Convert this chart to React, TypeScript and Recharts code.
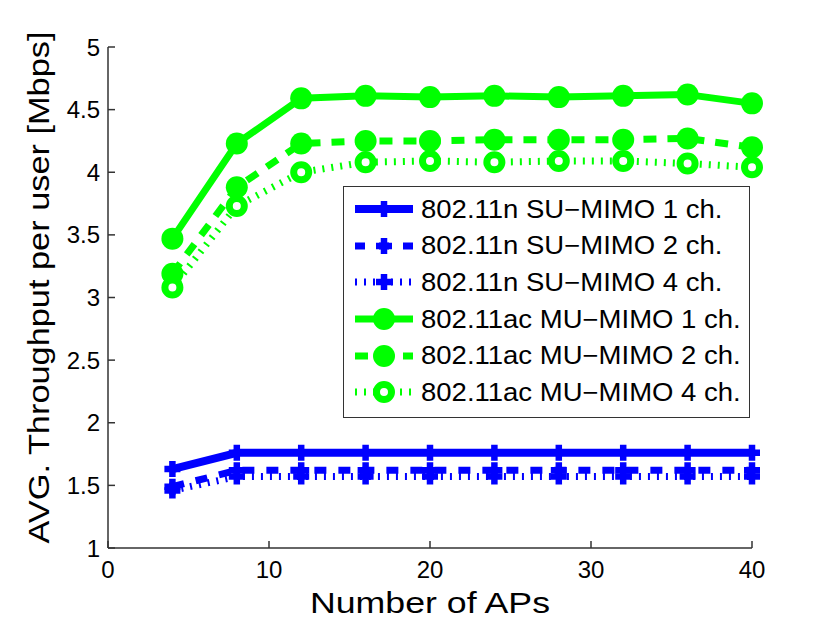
import React from 'react';
import { LineChart, Line, XAxis, YAxis, Legend, Label } from 'recharts';

// number of APs on the x axis
const AP_COUNTS = [4, 8, 12, 16, 20, 24, 28, 32, 36, 40];

// AVG. throughput per user [Mbps]
const SU_MIMO_1CH = [1.63, 1.76, 1.76, 1.76, 1.76, 1.76, 1.76, 1.76, 1.76, 1.76];
const SU_MIMO_2CH = [1.49, 1.62, 1.62, 1.62, 1.62, 1.62, 1.62, 1.62, 1.62, 1.62];
const SU_MIMO_4CH = [1.46, 1.57, 1.57, 1.57, 1.57, 1.57, 1.57, 1.57, 1.57, 1.57];
const MU_MIMO_1CH = [3.47, 4.23, 4.59, 4.61, 4.6, 4.61, 4.6, 4.61, 4.62, 4.55];
const MU_MIMO_2CH = [3.19, 3.88, 4.23, 4.25, 4.25, 4.26, 4.26, 4.26, 4.27, 4.2];
const MU_MIMO_4CH = [3.08, 3.73, 4.0, 4.08, 4.09, 4.08, 4.09, 4.09, 4.07, 4.04];

const X_TICKS = [0, 10, 20, 30, 40];
const Y_TICKS = [1, 1.5, 2, 2.5, 3, 3.5, 4, 4.5, 5];

const BLUE = '#0000ff';
const GREEN = '#00ff00';
const FONT = '"Liberation Sans", Arial, Helvetica, sans-serif';

type MarkerKind = 'plus' | 'disc' | 'ring';

const SERIES = [
  { key: 'su1', label: '802.11n SU\u2212MIMO 1 ch.', values: SU_MIMO_1CH, color: BLUE, width: 8, dash: undefined, marker: 'plus' as MarkerKind },
  { key: 'su2', label: '802.11n SU\u2212MIMO 2 ch.', values: SU_MIMO_2CH, color: BLUE, width: 7, dash: '12 12', marker: 'plus' as MarkerKind },
  { key: 'su4', label: '802.11n SU\u2212MIMO 4 ch.', values: SU_MIMO_4CH, color: BLUE, width: 7, dash: '2 7', marker: 'plus' as MarkerKind },
  { key: 'mu1', label: '802.11ac MU\u2212MIMO 1 ch.', values: MU_MIMO_1CH, color: GREEN, width: 7, dash: undefined, marker: 'disc' as MarkerKind },
  { key: 'mu2', label: '802.11ac MU\u2212MIMO 2 ch.', values: MU_MIMO_2CH, color: GREEN, width: 7, dash: '13 11', marker: 'disc' as MarkerKind },
  { key: 'mu4', label: '802.11ac MU\u2212MIMO 4 ch.', values: MU_MIMO_4CH, color: GREEN, width: 7, dash: '2 7', marker: 'ring' as MarkerKind },
];

const data = AP_COUNTS.map((x, i) => {
  const row: Record<string, number> = { x };
  SERIES.forEach((s) => {
    row[s.key] = s.values[i];
  });
  return row;
});

function Marker({ cx, cy, kind, color }: { cx: number; cy: number; kind: MarkerKind; color: string }) {
  if (kind === 'plus') {
    return (
      <path
        d={`M${cx - 8},${cy}H${cx + 8}M${cx},${cy - 8}V${cy + 8}`}
        stroke={color}
        strokeWidth={6.5}
        fill="none"
      />
    );
  }
  if (kind === 'ring') {
    return <circle cx={cx} cy={cy} r={7.5} fill="#fff" stroke={color} strokeWidth={7} />;
  }
  return <circle cx={cx} cy={cy} r={11} fill={color} />;
}

function LegendBox() {
  return (
    <div
      style={{
        width: 405,
        height: 226,
        border: '1px solid #333',
        background: '#fff',
        paddingTop: 4,
        boxSizing: 'content-box',
        fontFamily: FONT,
      }}
    >
      {SERIES.map((s) => (
        <div key={s.key} style={{ display: 'flex', alignItems: 'center', height: 36.6 }}>
          <svg width={58} height={30} style={{ marginLeft: 11, marginRight: 8, flex: 'none' }}>
            <line
              x1={0}
              y1={15}
              x2={58}
              y2={15}
              stroke={s.color}
              strokeWidth={s.width}
              strokeDasharray={s.marker === 'plus' && s.dash === '12 12' ? '10 14' : s.dash}
            />
            <Marker cx={29} cy={15} kind={s.marker} color={s.color} />
          </svg>
          <span
            style={{
              fontSize: 25,
              color: '#000',
              whiteSpace: 'nowrap',
              display: 'inline-block',
              transform: 'scaleX(1.1)',
              transformOrigin: 'left center',
            }}
          >
            {s.label}
          </span>
        </div>
      ))}
    </div>
  );
}

export default function App() {
  return (
    <div style={{ position: 'absolute', left: 0, top: 0, background: '#fff' }}>
      <LineChart
        width={830}
        height={625}
        data={data}
        margin={{ top: 47, right: 78, bottom: 17, left: 8 }}
        style={{ fontFamily: FONT }}
      >
        <XAxis
          dataKey="x"
          type="number"
          domain={[0, 40]}
          ticks={X_TICKS}
          height={60}
          tickSize={-7}
          tickMargin={20}
          axisLine={{ stroke: '#333', strokeWidth: 1.5 }}
          tickLine={{ stroke: '#333', strokeWidth: 1.5 }}
          tick={{ fontSize: 24, fill: '#000' }}
          interval={0}
        >
          <Label
            content={(p: any) => (
              <text
                x={p.viewBox.x + p.viewBox.width / 2}
                y={p.viewBox.y + 65}
                textAnchor="middle"
                fontSize={29}
                fill="#000"
                textLength={240}
                lengthAdjust="spacingAndGlyphs"
              >
                Number of APs
              </text>
            )}
          />
        </XAxis>
        <YAxis
          type="number"
          domain={[1, 5]}
          ticks={Y_TICKS}
          width={100}
          tickSize={-7}
          tickMargin={15}
          axisLine={{ stroke: '#333', strokeWidth: 1.5 }}
          tickLine={{ stroke: '#333', strokeWidth: 1.5 }}
          tick={{ fontSize: 24, fill: '#000' }}
          tickFormatter={(v) => String(v)}
          interval={0}
        >
          <Label
            content={(p: any) => {
              const x = p.viewBox.x + 30;
              const y = p.viewBox.y + p.viewBox.height / 2 - 10;
              return (
                <text
                  x={x}
                  y={y}
                  transform={`rotate(-90, ${x}, ${y})`}
                  textAnchor="middle"
                  dominantBaseline="central"
                  fontSize={30}
                  fill="#000"
                  textLength={512}
                  lengthAdjust="spacingAndGlyphs"
                >
                  AVG. Throughput per user [Mbps]
                </text>
              );
            }}
          />
        </YAxis>
        <Legend
          layout="vertical"
          align="center"
          verticalAlign="middle"
          wrapperStyle={{ left: 343, top: 186, width: 407, height: 232 }}
          content={() => <LegendBox />}
        />
        {SERIES.map((s) => (
          <Line
            key={s.key}
            dataKey={s.key}
            name={s.label}
            type="linear"
            stroke={s.color}
            strokeWidth={s.width}
            strokeDasharray={s.dash}
            strokeLinejoin="round"
            isAnimationActive={false}
            dot={(p: any) => (
              <g key={`${s.key}-${p.index}`}>
                <Marker cx={p.cx} cy={p.cy} kind={s.marker} color={s.color} />
              </g>
            )}
            activeDot={false}
          />
        ))}
      </LineChart>
    </div>
  );
}
